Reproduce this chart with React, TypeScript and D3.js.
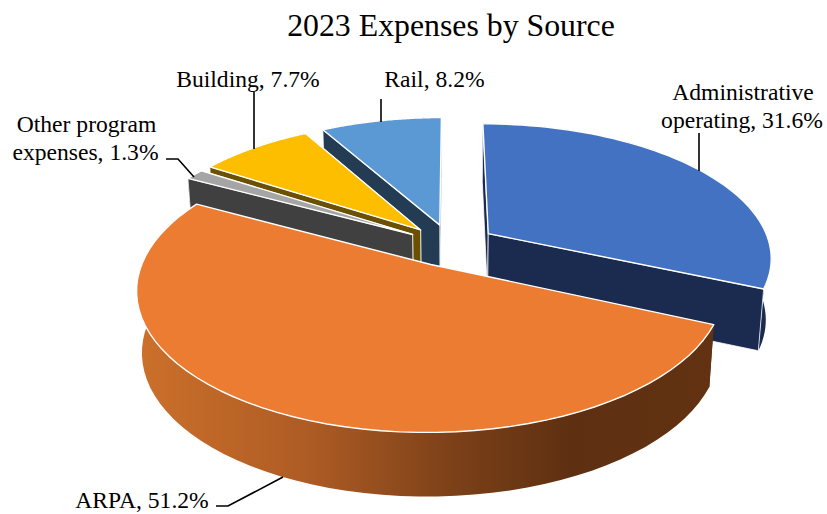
import React from "react";
import * as d3 from "d3";

const categories = ["Administrative operating", "ARPA", "Other program expenses", "Building", "Rail"];
const shares = [31.6, 51.2, 1.3, 7.7, 8.2];
const topColors = ["#4372C2", "#EB7C31", "#A5A5A5", "#FDBE00", "#5B99D5"];
const wallColors = ["#1A2B4F", "#5F3012", "#404040", "#6B5000", "#233C54"];
const paintOrder = [4, 3, 2, 0, 1];

const titleText = "2023 Expenses by Source";
const labelLines = [
  { lines: ["Administrative", "operating, 31.6%"], x: [743, 742], y: [99.5, 128] },
  { lines: ["ARPA, 51.2%"], x: [142], y: [508] },
  { lines: ["Other program", "expenses, 1.3%"], x: [86.5, 85.5], y: [132, 159.5] },
  { lines: ["Building, 7.7%"], x: [248], y: [87] },
  { lines: ["Rail, 8.2%"], x: [434.5], y: [87] },
];
const leaders: [number, number][][] = [
  [[699, 133], [699, 171]],
  [[216, 506], [228, 506], [283, 477]],
  [[166, 159], [178, 159], [194, 177]],
  [[254, 92], [254, 149]],
  [[381, 99], [381, 122]],
];

const W = 827, H = 514;
const cx = 451, cy = 245, R = 282, kR = 132, persp = 0.17, explode = 0.16;
const depth = 61, bottomScaleX = 0.983, bottomScaleY = 0.985;

type Pt = [number, number];

function project(X: number, Y: number, bottom: boolean): Pt {
  const w = 1 / (1 - persp * Y);
  if (!bottom) return [cx + R * X * w, cy + kR * Y * w];
  return [
    cx + R * X * w * bottomScaleX,
    cy + kR * Y * w * bottomScaleY + depth * (1 + 0.4 * (w - 1)),
  ];
}

const pie = d3.pie<number>().sort(null).startAngle(0).endAngle(2 * Math.PI);
const arcs = pie(shares);
const line = d3.line<Pt>();

function slicePaths(a: d3.PieArcDatum<number>) {
  const mid = (a.startAngle + a.endAngle) / 2;
  const ox = explode * Math.sin(mid), oy = -explode * Math.cos(mid);
  const steps = d3.range(0, 61).map((i) => a.startAngle + ((a.endAngle - a.startAngle) * i) / 60);
  const rim = (bottom: boolean) =>
    steps.map((t) => project(ox + Math.sin(t), oy - Math.cos(t), bottom));
  const apexTop = project(ox, oy, false);
  const apexBot = project(ox, oy, true);
  const rimTop = rim(false);
  const rimBot = rim(true);
  const wallA = line([apexTop, rimTop[0], rimBot[0], apexBot]) + "Z";
  const wallB = line([apexTop, rimTop[60], rimBot[60], apexBot]) + "Z";
  return {
    top: line([apexTop, ...rimTop]) + "Z",
    band: line([...rimTop, ...[...rimBot].reverse()]) + "Z",
    walls: mid > Math.PI ? [wallB, wallA] : [wallA, wallB],
  };
}

export default function App() {
  return (
    <svg width={W} height={H} viewBox={`0 0 ${W} ${H}`} style={{ position: "absolute", left: 0, top: 0, background: "#fff" }}>
      <defs>
        <linearGradient id="arpaRim" gradientUnits="userSpaceOnUse" x1={138} x2={716} y1={0} y2={0}>
          <stop offset="0" stopColor="#CC702B" />
          <stop offset="0.3" stopColor="#AD5B24" />
          <stop offset="0.55" stopColor="#7B4018" />
          <stop offset="0.75" stopColor="#5E3011" />
          <stop offset="1" stopColor="#623212" />
        </linearGradient>
      </defs>
      <text x={451} y={36} textAnchor="middle" fontFamily="Liberation Serif" fontSize={31.8} fill="#000">{titleText}</text>
      {paintOrder.map((i) => {
        const p = slicePaths(arcs[i]);
        const wall = wallColors[i];
        const isArpa = categories[i] === "ARPA";
        return (
          <g key={categories[i]}>
            {isArpa ? null : <path d={p.band} fill={wall} />}
            {p.walls.map((d, j) => (
              <path key={j} d={d} fill={wall} stroke="#fff" strokeOpacity={isArpa ? 0 : 0.75} strokeWidth={1} strokeLinejoin="round" />
            ))}
            {isArpa ? <path d={p.band} fill="url(#arpaRim)" /> : null}
            <path d={p.top} fill={topColors[i]} stroke="#fff" strokeWidth={1.4} strokeLinejoin="round" />
          </g>
        );
      })}
      {leaders.map((pts, i) => (
        <path key={i} d={line(pts) ?? ""} fill="none" stroke="#000" strokeWidth={1.6} />
      ))}
      {labelLines.map((l) =>
        l.lines.map((t, j) => (
          <text key={t} x={l.x[j]} y={l.y[j]} textAnchor="middle" fontFamily="Liberation Serif" fontSize={23.6} fill="#000">{t}</text>
        ))
      )}
    </svg>
  );
}
